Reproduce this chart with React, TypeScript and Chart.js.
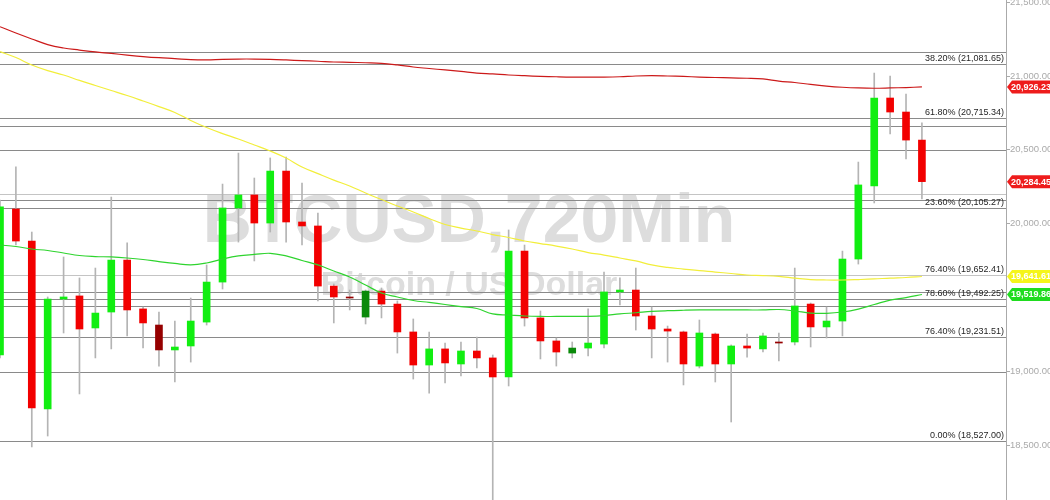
import React, { useEffect, useRef } from "react";
import { Chart, registerables } from "chart.js";

Chart.register(...registerables);

// Candles (12h BTCUSD)
const opens = [19110, 20099, 19882, 18744, 19489, 19510, 19293, 19401, 19753, 19422, 19313, 19144, 19171, 19333, 19604, 20106, 20194, 20004, 20356, 20011, 19984, 19577, 19503, 19367, 19543, 19455, 19266, 19042, 19151, 19049, 19137, 19090, 18961, 19814, 19361, 19205, 19123, 19157, 19184, 19537, 19550, 19374, 19286, 19266, 19035, 19252, 19049, 19171, 19151, 19198, 19198, 19455, 19300, 19340, 19760, 20255, 20851, 20756, 20566];
const highs = [20160, 20384, 19943, 19503, 19774, 19632, 19699, 20180, 19869, 19435, 19401, 19340, 19496, 19720, 20268, 20478, 20309, 20445, 20451, 20275, 20072, 19591, 19550, 19550, 19564, 19476, 19354, 19266, 19191, 19198, 19232, 19110, 19957, 19855, 19408, 19225, 19198, 19422, 19672, 19632, 19699, 19435, 19306, 19272, 19347, 19259, 19178, 19252, 19259, 19259, 19699, 19462, 19435, 19814, 20417, 21020, 21000, 20878, 20682];
const lows = [19090, 19855, 18487, 18561, 19259, 18846, 19090, 19151, 19239, 19157, 19035, 18927, 19062, 19313, 19557, 19875, 19747, 19943, 19875, 19855, 19476, 19327, 19415, 19320, 19361, 19123, 18947, 18852, 18920, 18968, 19022, 18050, 18900, 19306, 19083, 19035, 19090, 19103, 19157, 19449, 19279, 19090, 19062, 18907, 19022, 18927, 18656, 19096, 19130, 19069, 19178, 19164, 19225, 19239, 19726, 20140, 20607, 20438, 20167];
const closes = [20113, 19882, 18751, 19489, 19503, 19286, 19394, 19753, 19415, 19327, 19144, 19164, 19340, 19604, 20106, 20194, 20004, 20356, 20011, 19984, 19577, 19503, 19496, 19543, 19455, 19266, 19042, 19151, 19056, 19137, 19090, 18961, 19814, 19361, 19205, 19130, 19157, 19191, 19537, 19550, 19374, 19286, 19272, 19049, 19259, 19049, 19171, 19157, 19239, 19191, 19442, 19300, 19340, 19760, 20262, 20851, 20756, 20566, 20284.45];
// candle tint: g = up, r = down, dg / dr = dark variants
const tints = ["g", "r", "r", "g", "g", "r", "g", "g", "r", "r", "dr", "g", "g", "g", "g", "g", "r", "g", "r", "r", "r", "r", "dr", "dg", "r", "r", "r", "g", "r", "g", "r", "r", "g", "r", "r", "r", "dg", "g", "g", "g", "r", "r", "r", "r", "g", "r", "g", "r", "g", "dr", "g", "r", "g", "g", "g", "g", "r", "r", "r"];

// Moving averages
const maRed = [21334, 21291, 21251, 21213, 21190, 21176, 21163, 21153, 21142, 21132, 21124, 21118, 21111, 21109, 21113, 21115, 21115, 21113, 21109, 21104, 21100, 21095, 21093, 21090, 21086, 21075, 21061, 21051, 21041, 21031, 21020, 21014, 21007, 21002, 20998, 20995, 20993, 20993, 20993, 20995, 21000, 21002, 21000, 20997, 20993, 20990, 20987, 20985, 20980, 20966, 20956, 20943, 20932, 20924, 20919, 20917, 20919, 20922, 20926.23];
const maYellow = [21165, 21125, 21075, 21037, 21007, 20970, 20936, 20902, 20868, 20831, 20793, 20753, 20699, 20651, 20610, 20573, 20533, 20492, 20444, 20384, 20339, 20295, 20255, 20207, 20163, 20119, 20079, 20035, 19994, 19970, 19950, 19926, 19906, 19882, 19865, 19848, 19828, 19804, 19787, 19767, 19747, 19720, 19703, 19692, 19681, 19672, 19662, 19652, 19648, 19642, 19631, 19621, 19618, 19618, 19621, 19625, 19631, 19635, 19641.61];
const maGreen = [19855, 19845, 19828, 19818, 19801, 19784, 19777, 19774, 19767, 19757, 19743, 19730, 19720, 19733, 19760, 19781, 19791, 19799, 19781, 19750, 19720, 19679, 19638, 19584, 19530, 19503, 19479, 19466, 19452, 19438, 19425, 19388, 19381, 19374, 19371, 19371, 19371, 19372, 19377, 19388, 19396, 19405, 19410, 19413, 19415, 19415, 19415, 19415, 19415, 19418, 19408, 19394, 19392, 19401, 19421, 19452, 19482, 19499, 19519.86];

// Fibonacci levels (labelled)
const fibPercents = ["38.20%", "61.80%", "23.60%", "76.40%", "78.60%", "76.40%", "0.00%"];
const fibValues = [21081.65, 20715.34, 20105.27, 19652.41, 19492.25, 19231.51, 18527.0];
const fibShades = ["#8a8a8a", "#8a8a8a", "#8a8a8a", "#c4c4c4", "#8a8a8a", "#8a8a8a", "#8a8a8a"];
// other drawn levels (unlabelled)
const extraLevels = [21165, 20661, 20499, 20199, 20160, 19535, 19442, 18993];
const extraShades = ["#8a8a8a", "#8a8a8a", "#8a8a8a", "#c4c4c4", "#8a8a8a", "#8a8a8a", "#8a8a8a", "#8a8a8a"];

// axis
const yTicks = [18500, 19000, 20000, 20500, 21000, 21500];
const yMin = 18127.5;
const yMax = 21515;
const xMax = 63.29;

// price tags
const tagValues = [20926.23, 20284.45, 19641.61, 19519.86];
const tagColors = ["#ee1c1c", "#ee1c1c", "#f5f51a", "#1fdc1f"];

const tintColor: Record<string, string> = {
  g: "#11ee11",
  r: "#f20000",
  dg: "#0a8a0a",
  dr: "#960000",
};

const FONT = "'Liberation Sans', Arial, sans-serif";

const fmt = (v: number) =>
  v.toLocaleString("en-US", { minimumFractionDigits: 2, maximumFractionDigits: 2 });

export default function App() {
  const ref = useRef<HTMLCanvasElement | null>(null);

  useEffect(() => {
    if (!ref.current) return;
    const idx = opens.map((_, i) => i);

    const overlay = {
      id: "overlay",
      beforeDatasetsDraw(chart: any) {
        const { ctx, chartArea } = chart;
        const y = chart.scales.y;
        ctx.save();
        ctx.beginPath();
        ctx.rect(chartArea.left, chartArea.top, chartArea.right - chartArea.left, chartArea.bottom - chartArea.top);
        ctx.clip();
        // watermark
        const cx = (chartArea.left + chartArea.right) / 2 - 34;
        ctx.fillStyle = "#dddddd";
        ctx.textAlign = "center";
        ctx.textBaseline = "alphabetic";
        ctx.font = `bold 68px ${FONT}`;
        ctx.fillText("BTCUSD,720Min", cx, 242);
        ctx.font = `bold 34px ${FONT}`;
        ctx.fillText("Bitcoin / US Dollar", cx, 295);
        // levels
        ctx.lineWidth = 1;
        extraLevels.forEach((v, i) => {
          const py = Math.round(y.getPixelForValue(v)) + 0.5;
          ctx.strokeStyle = extraShades[i];
          ctx.beginPath();
          ctx.moveTo(chartArea.left, py);
          ctx.lineTo(chartArea.right, py);
          ctx.stroke();
        });
        fibValues.forEach((v, i) => {
          const py = Math.round(y.getPixelForValue(v)) + 0.5;
          ctx.strokeStyle = fibShades[i];
          ctx.beginPath();
          ctx.moveTo(chartArea.left, py);
          ctx.lineTo(chartArea.right, py);
          ctx.stroke();
        });
        ctx.font = `9px ${FONT}`;
        ctx.fillStyle = "#262626";
        ctx.textAlign = "right";
        ctx.textBaseline = "bottom";
        fibValues.forEach((v, i) => {
          const py = Math.round(y.getPixelForValue(v));
          ctx.fillText(`${fibPercents[i]} (${fmt(v)})`, chartArea.right - 2, py - 1);
        });
        ctx.restore();
      },
      afterDraw(chart: any) {
        const { ctx, chartArea } = chart;
        const y = chart.scales.y;
        ctx.save();
        tagValues.forEach((v, i) => {
          const py = y.getPixelForValue(v);
          const x0 = chartArea.right + 1;
          const h = 13;
          ctx.fillStyle = tagColors[i];
          ctx.beginPath();
          ctx.moveTo(x0, py);
          ctx.lineTo(x0 + 5, py - h / 2);
          ctx.lineTo(1060, py - h / 2);
          ctx.lineTo(1060, py + h / 2);
          ctx.lineTo(x0 + 5, py + h / 2);
          ctx.closePath();
          ctx.fill();
          ctx.fillStyle = "#ffffff";
          ctx.font = `bold 9px ${FONT}`;
          ctx.textAlign = "left";
          ctx.textBaseline = "middle";
          ctx.fillText(fmt(v), chartArea.right + 5, py + 0.5);
        });
        ctx.restore();
      },
    };

    const chart = new Chart(ref.current, {
      type: "bar",
      data: {
        datasets: [
          {
            type: "line",
            data: idx.map((i) => ({ x: i, y: maRed[i] })),
            borderColor: "#cc1a1a",
            borderWidth: 1.2,
            pointRadius: 0,
            tension: 0.4,
            order: 0,
          } as any,
          {
            type: "line",
            data: idx.map((i) => ({ x: i, y: maYellow[i] })),
            borderColor: "#f2ee3a",
            borderWidth: 1.2,
            pointRadius: 0,
            tension: 0.4,
            order: 0,
          } as any,
          {
            type: "line",
            data: idx.map((i) => ({ x: i, y: maGreen[i] })),
            borderColor: "#2fd42f",
            borderWidth: 1.2,
            pointRadius: 0,
            tension: 0.4,
            order: 0,
          } as any,
          {
            type: "bar",
            data: idx.map((i) => ({ x: i, y: [opens[i], closes[i]] })),
            backgroundColor: tints.map((t) => tintColor[t]),
            borderWidth: 0,
            barThickness: 7,
            grouped: false,
            minBarLength: 1,
            order: 1,
          } as any,
          {
            type: "bar",
            data: idx.map((i) => ({ x: i, y: [lows[i], highs[i]] })),
            backgroundColor: "#b4b4b4",
            borderWidth: 0,
            barThickness: 1,
            grouped: false,
            order: 2,
          } as any,
        ],
      },
      options: {
        animation: false,
        responsive: false,
        maintainAspectRatio: false,
        layout: { padding: 0 },
        plugins: { legend: { display: false }, tooltip: { enabled: false } },
        scales: {
          x: {
            type: "linear",
            min: 0,
            max: xMax,
            display: false,
            offset: false,
          },
          y: {
            position: "right",
            min: yMin,
            max: yMax,
            afterFit(scale: any) {
              scale.width = 44;
              scale.paddingTop = 0;
              scale.paddingBottom = 0;
            },
            afterBuildTicks(scale: any) {
              scale.ticks = yTicks.map((v) => ({ value: v }));
            },
            grid: { drawOnChartArea: false, drawTicks: true, tickLength: 4, color: "#aaaaaa" },
            border: { display: true, color: "#aaaaaa" },
            ticks: {
              color: "#aaaaaa",
              padding: 0,
              font: { size: 9.5, family: FONT },
              callback: (v: any) => fmt(Number(v)),
            },
          },
        },
      },
      plugins: [overlay],
    });
    return () => chart.destroy();
  }, []);

  return (
    <div style={{ position: "fixed", left: 0, top: 0, width: 1050, height: 500, background: "#ffffff" }}>
      <canvas ref={ref} width={1050} height={500} style={{ width: 1050, height: 500, display: "block" }} />
    </div>
  );
}
